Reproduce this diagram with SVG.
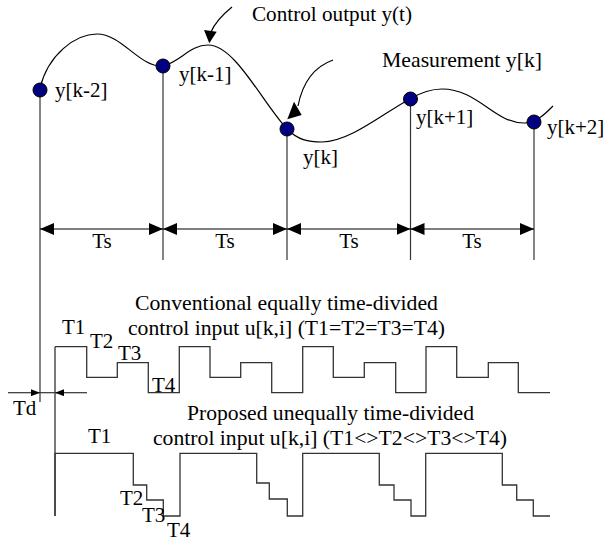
<svg xmlns="http://www.w3.org/2000/svg" width="605" height="544" viewBox="0 0 605 544">
<style>
text{font-family:"Liberation Serif","Times New Roman",serif;font-size:21px;fill:#000}
.ln{fill:none;stroke:#333;stroke-width:1.2}
.cv{fill:none;stroke:#000;stroke-width:1.2}
.wf{fill:none;stroke:#333;stroke-width:1.3}
.dot{fill:#000080;stroke:#000;stroke-width:1}
.ah{fill:#000}
</style>
<defs>
<marker id="arr" markerWidth="14" markerHeight="12" refX="14" refY="6" orient="auto-start-reverse" markerUnits="userSpaceOnUse">
<path d="M0,0 L14,6 L0,12 Z" fill="#000"/>
</marker>
<marker id="sarr" markerWidth="9" markerHeight="7" refX="9" refY="3.5" orient="auto" markerUnits="userSpaceOnUse">
<path d="M0,0 L9,3.5 L0,7 Z" fill="#000"/>
</marker>
</defs>
<g id="connectors">
<path class="cv" d="M40,88 C48,55 75,34 97,34 C122,34 140,68 163,66 C180,62 190,45 208,45 C235,45 262,102 287,129 C298,140 308,142 322,142 C350,142 385,112 410,99 C420,93 430,89 442,89 C478,89 495,124 525,123 C538,122 547,112 553,106"/>
<line class="ln" x1="40" y1="90" x2="40" y2="402"/>
<line class="ln" x1="163" y1="66" x2="163" y2="260"/>
<line class="ln" x1="287" y1="129" x2="287" y2="260"/>
<line class="ln" x1="410.5" y1="99" x2="410.5" y2="260"/>
<line class="ln" x1="534" y1="122" x2="534" y2="260"/>
<line class="cv" x1="40" y1="229" x2="163" y2="229" marker-start="url(#arr)" marker-end="url(#arr)"/>
<line class="cv" x1="163" y1="229" x2="287" y2="229" marker-start="url(#arr)" marker-end="url(#arr)"/>
<line class="cv" x1="287" y1="229" x2="410.5" y2="229" marker-start="url(#arr)" marker-end="url(#arr)"/>
<line class="cv" x1="410.5" y1="229" x2="534" y2="229" marker-start="url(#arr)" marker-end="url(#arr)"/>
<path class="cv" d="M232,7 Q216,20 211,32"/>
<polygon class="ah" points="204,30 216.7,31.7 209.3,43.3"/>
<path class="cv" d="M333,60 Q305,70 298,106"/>
<polygon class="ah" points="294,101.7 301.7,115 287.3,119.3"/>
<line class="ln" x1="8" y1="392.7" x2="40" y2="392.7" marker-end="url(#sarr)"/>
<line class="ln" x1="87" y1="392.7" x2="55" y2="392.7" marker-end="url(#sarr)"/>
<line class="ln" x1="40" y1="392.7" x2="55" y2="392.7"/>
</g>
<g id="samples">
<circle class="dot" cx="40" cy="90" r="7"/>
<circle class="dot" cx="163" cy="66" r="7"/>
<circle class="dot" cx="287" cy="129" r="7"/>
<circle class="dot" cx="410.5" cy="99" r="7"/>
<circle class="dot" cx="534" cy="122" r="7"/>
<text x="55" y="97">y[k-2]</text>
<text x="179" y="81">y[k-1]</text>
<text x="303" y="164">y[k]</text>
<text x="416" y="124">y[k+1]</text>
<text x="547" y="134">y[k+2]</text>
<text x="252" y="21" textLength="160" lengthAdjust="spacingAndGlyphs">Control output y(t)</text>
<text x="382" y="67" textLength="160" lengthAdjust="spacingAndGlyphs">Measurement y[k]</text>
</g>
<g id="ts-labels">
<text x="102" y="248" text-anchor="middle">Ts</text>
<text x="225" y="248" text-anchor="middle">Ts</text>
<text x="349" y="248" text-anchor="middle">Ts</text>
<text x="472" y="248" text-anchor="middle">Ts</text>
</g>
<g id="conventional">
<line class="wf" x1="55" y1="346.7" x2="55" y2="516"/>
<path class="wf" d="M55,346.7 H86.7 V377.3 H117.3 V362.7 H148.3 V392.7 H179.3 V346.7 H210 V377.3 H240.7 V362.7 H271.7 V392.7 H302.7 V346.7 H333.3 V377.3 H364.3 V362.7 H395.7 V392.7 H426 V346.7 H456.7 V377.3 H488.3 V362.7 H518.3 V392.7 H550"/>
<text x="135" y="310" textLength="303" lengthAdjust="spacingAndGlyphs">Conventional equally time-divided</text>
<text x="128" y="335" textLength="317" lengthAdjust="spacingAndGlyphs">control input u[k,i] (T1=T2=T3=T4)</text>
<text x="62" y="334">T1</text>
<text x="90" y="348">T2</text>
<text x="118" y="360">T3</text>
<text x="152" y="392">T4</text>
</g>
<g id="proposed">
<path class="wf" d="M55,516 V453.3 H133.3 V485 H146.7 V500 H163.3 V516 H180 V453.3 H256.7 V483 H269.3 V499 H287.3 V516 H302.7 V453.3 H379.3 V485 H394 V500 H411 V516 H425.7 V453.3 H502.3 V485 H516.7 V500 H533.3 V516 H550"/>
<text x="187" y="420" textLength="287" lengthAdjust="spacingAndGlyphs">Proposed unequally time-divided</text>
<text x="153" y="445" textLength="354" lengthAdjust="spacingAndGlyphs">control input u[k,i] (T1&lt;&gt;T2&lt;&gt;T3&lt;&gt;T4)</text>
<text x="88" y="443">T1</text>
<text x="120" y="505">T2</text>
<text x="142" y="522">T3</text>
<text x="167" y="537">T4</text>
</g>
<g id="td">
<text x="13" y="415">Td</text>
</g>
</svg>
